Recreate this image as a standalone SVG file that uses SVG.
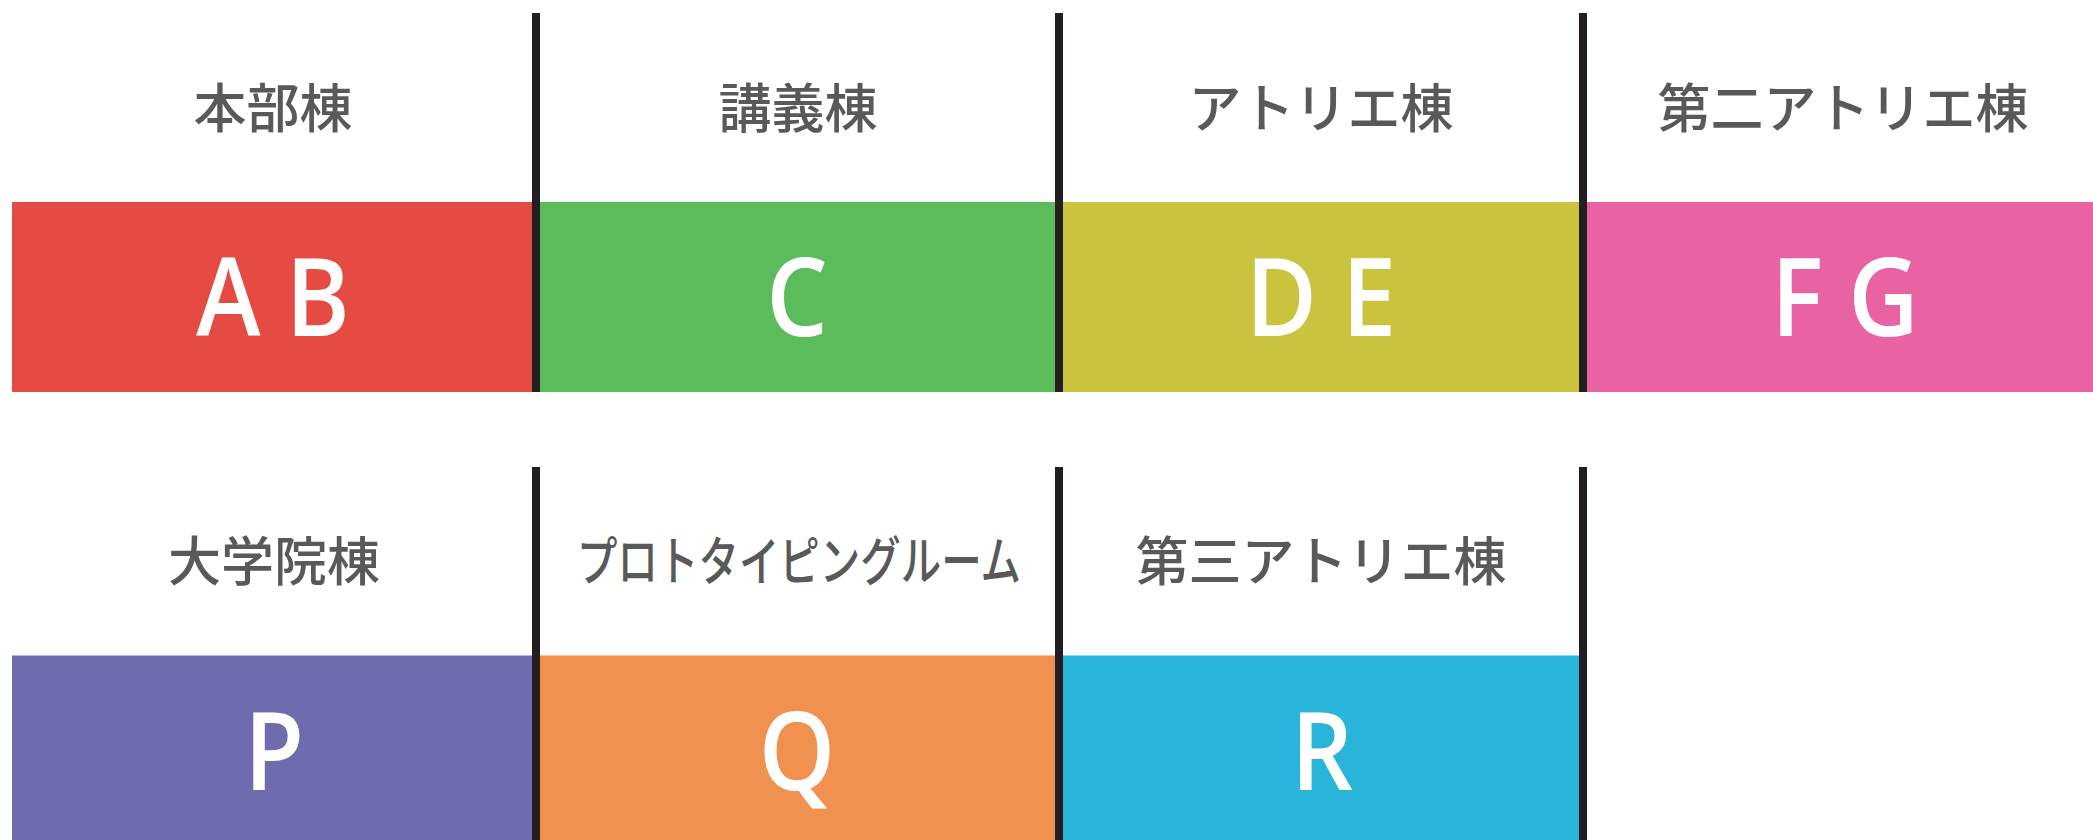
<svg xmlns="http://www.w3.org/2000/svg" width="2093" height="840" viewBox="0 0 2093 840">
<style>
.lbl{font-family:"Noto Sans CJK JP","Noto Sans CJK SC",sans-serif;font-size:53px;font-weight:500;fill:#595959;text-anchor:middle}
.code{font-family:"Open Sans","Liberation Sans",sans-serif;font-weight:600;font-size:108px;fill:#ffffff;text-anchor:middle}
.div{stroke:#231F20;stroke-width:8;fill:none}
</style>
<rect width="2093" height="840" fill="#ffffff"/>
<g id="node-AB">
<rect x="12" y="202" width="524" height="190" fill="#E54B42"/>
<text class="lbl" x="273" y="128">本部棟</text>
<text class="code" transform="translate(273,336) scale(0.9,1)">A B</text>
</g>
<g id="node-C">
<rect x="536" y="202" width="523" height="190" fill="#5CBB5A"/>
<text class="lbl" x="798" y="128">講義棟</text>
<text class="code" transform="translate(797,336) scale(0.9,1)">C</text>
</g>
<g id="node-DE">
<rect x="1059" y="202" width="524" height="190" fill="#CAC33E"/>
<text class="lbl" x="1321" y="128">アトリエ棟</text>
<text class="code" transform="translate(1321,336) scale(0.9,1)">D E</text>
</g>
<g id="node-FG">
<rect x="1583" y="202" width="510" height="190" fill="#E963A2"/>
<text class="lbl" x="1843" y="128">第二アトリエ棟</text>
<text class="code" transform="translate(1845,336) scale(0.9,1)">F G</text>
</g>
<g id="node-P">
<rect x="12" y="655.5" width="524" height="184.5" fill="#6E6BAE"/>
<text class="lbl" x="274" y="581">大学院棟</text>
<text class="code" transform="translate(274,789.5) scale(0.9,1)">P</text>
</g>
<g id="node-Q">
<rect x="536" y="655.5" width="523" height="184.5" fill="#F0914F"/>
<text class="lbl" x="799" y="581" textLength="444" lengthAdjust="spacingAndGlyphs">プロトタイピングルーム</text>
<text class="code" transform="translate(797,789.5) scale(0.9,1)">Q</text>
</g>
<g id="node-R">
<rect x="1059" y="655.5" width="524" height="184.5" fill="#29B4D9"/>
<text class="lbl" x="1321" y="581">第三アトリエ棟</text>
<text class="code" transform="translate(1322,789.5) scale(0.9,1)">R</text>
</g>
<g id="dividers">
<line class="div" x1="536" y1="13" x2="536" y2="392"/>
<line class="div" x1="1059" y1="13" x2="1059" y2="392"/>
<line class="div" x1="1583" y1="13" x2="1583" y2="392"/>
<line class="div" x1="536" y1="467" x2="536" y2="840"/>
<line class="div" x1="1059" y1="467" x2="1059" y2="840"/>
<line class="div" x1="1583" y1="467" x2="1583" y2="840"/>
</g>
</svg>
